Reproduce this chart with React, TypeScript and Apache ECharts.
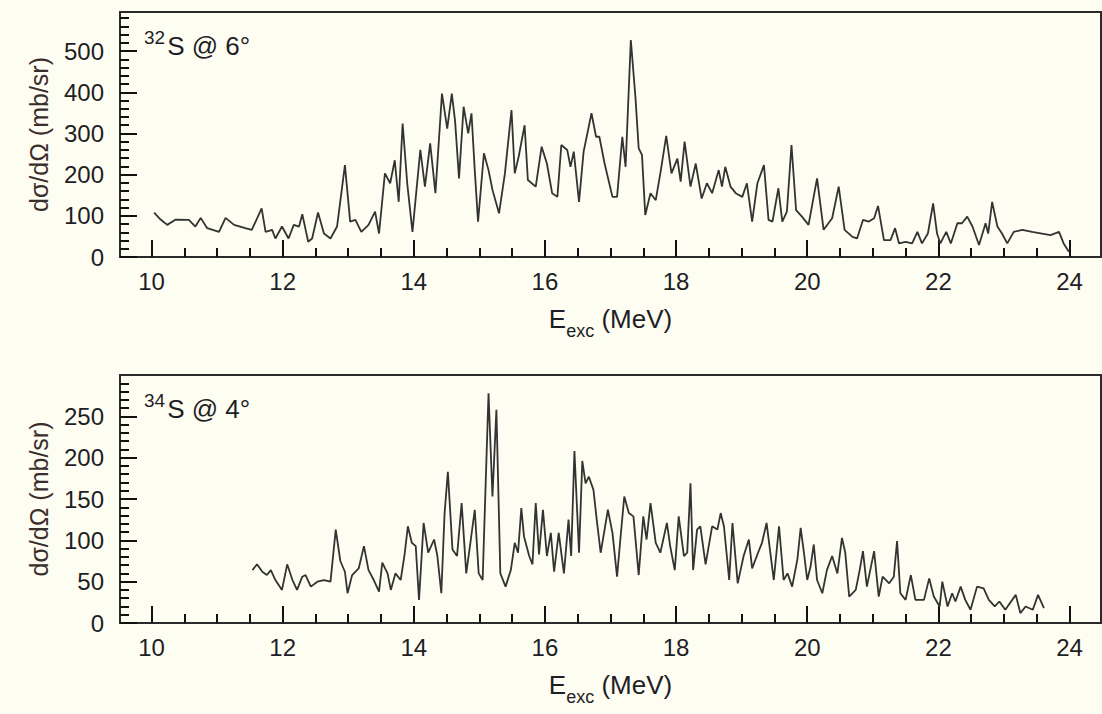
import React, { useEffect, useRef } from "react";
import * as echarts from "echarts";

// 32S @ 6 deg : excitation energy (MeV) and cross section (mb/sr)
const energy32 = [10.04,10.14,10.24,10.37,10.57,10.67,10.75,10.85,11.03,11.13,11.26,11.43,11.53,11.68,11.74,11.84,11.89,11.99,12.09,12.17,12.25,12.30,12.39,12.45,12.54,12.63,12.73,12.83,12.95,13.03,13.11,13.20,13.31,13.41,13.47,13.56,13.64,13.71,13.77,13.83,13.90,13.98,14.10,14.17,14.25,14.33,14.43,14.51,14.58,14.63,14.69,14.76,14.83,14.88,14.93,14.98,15.07,15.14,15.20,15.30,15.39,15.49,15.54,15.60,15.69,15.74,15.86,15.95,16.03,16.11,16.19,16.25,16.34,16.39,16.44,16.52,16.59,16.71,16.78,16.83,16.91,17.03,17.10,17.18,17.23,17.31,17.38,17.43,17.48,17.53,17.61,17.69,17.76,17.85,17.93,18.02,18.07,18.13,18.22,18.30,18.39,18.47,18.55,18.65,18.70,18.75,18.83,18.91,19.01,19.08,19.16,19.24,19.34,19.41,19.47,19.56,19.62,19.69,19.76,19.83,19.92,20.02,20.15,20.25,20.38,20.48,20.57,20.69,20.76,20.85,20.94,21.02,21.08,21.17,21.27,21.34,21.40,21.50,21.60,21.68,21.75,21.84,21.92,21.98,22.03,22.12,22.19,22.29,22.36,22.44,22.52,22.62,22.72,22.76,22.82,22.90,22.97,23.05,23.15,23.28,23.43,23.58,23.71,23.84,23.91,23.99];
const sigma32 = [108,91,78,91,90,74,95,70,61,95,78,70,66,118,61,66,45,74,45,78,74,104,37,45,108,57,45,74,223,86,90,61,78,110,57,203,179,235,134,324,179,61,260,171,276,155,397,312,397,330,191,365,300,349,211,86,252,211,163,106,203,357,203,244,320,187,171,268,227,155,146,272,260,219,256,134,256,349,292,292,227,146,146,292,219,527,389,264,248,102,155,138,203,294,203,239,183,280,171,227,142,179,155,211,171,219,171,155,146,179,86,179,223,90,86,167,86,110,272,114,98,78,191,66,94,171,66,49,45,90,86,94,124,41,41,70,33,37,33,61,33,57,130,57,33,61,33,82,82,98,74,29,82,57,134,74,57,33,61,66,61,57,53,61,33,13];

// 34S @ 4 deg
const energy34 = [11.54,11.61,11.69,11.76,11.82,11.89,11.99,12.07,12.15,12.22,12.30,12.35,12.43,12.53,12.63,12.73,12.81,12.88,12.95,12.99,13.06,13.16,13.24,13.31,13.39,13.47,13.52,13.60,13.65,13.72,13.80,13.86,13.91,13.97,14.03,14.08,14.15,14.22,14.31,14.36,14.42,14.47,14.52,14.59,14.66,14.73,14.80,14.87,14.93,14.99,15.05,15.14,15.20,15.26,15.32,15.40,15.48,15.54,15.59,15.64,15.68,15.76,15.81,15.86,15.91,15.97,16.03,16.09,16.14,16.21,16.29,16.36,16.40,16.45,16.52,16.57,16.62,16.67,16.74,16.79,16.85,16.91,16.96,17.03,17.10,17.15,17.21,17.28,17.35,17.43,17.50,17.55,17.61,17.69,17.76,17.86,17.91,17.98,18.04,18.12,18.17,18.22,18.26,18.32,18.37,18.45,18.55,18.63,18.68,18.73,18.81,18.86,18.94,19.03,19.11,19.16,19.25,19.31,19.38,19.49,19.57,19.64,19.70,19.77,19.85,19.90,19.95,20.00,20.05,20.10,20.15,20.23,20.30,20.38,20.46,20.53,20.58,20.64,20.74,20.80,20.85,20.91,21.02,21.09,21.15,21.25,21.32,21.37,21.42,21.50,21.58,21.65,21.78,21.86,21.93,22.02,22.06,22.14,22.21,22.26,22.34,22.41,22.49,22.59,22.69,22.77,22.86,22.93,23.02,23.18,23.25,23.33,23.44,23.52,23.61];
const sigma34 = [64,71,62,58,64,52,40,71,52,40,56,58,44,50,52,50,113,75,62,36,58,66,93,64,52,38,73,60,40,60,52,83,117,97,93,28,121,85,101,81,36,133,183,89,81,145,60,101,137,60,52,278,153,258,60,44,64,97,85,139,105,81,71,145,83,137,81,109,62,109,60,125,81,208,85,196,169,177,161,125,85,113,137,109,56,101,153,133,129,58,129,101,145,97,85,121,93,64,129,81,85,169,64,113,117,71,117,113,133,117,52,121,48,81,101,66,85,97,121,52,117,52,60,44,77,115,85,52,68,95,52,36,64,81,60,103,85,32,40,64,87,44,87,32,56,48,56,99,36,28,58,28,28,54,32,20,50,20,36,26,44,28,16,44,42,28,20,26,16,34,12,20,16,34,18];

const xMajorTicks = [10, 12, 14, 16, 18, 20, 22, 24];
const xMinorTicks = [10.5, 11, 11.5, 12.5, 13, 13.5, 14.5, 15, 15.5, 16.5, 17, 17.5, 18.5, 19, 19.5, 20.5, 21, 21.5, 22.5, 23, 23.5];
const yMajor32 = [0, 100, 200, 300, 400, 500];
const yMinor32 = [20, 40, 60, 80, 120, 140, 160, 180, 220, 240, 260, 280, 320, 340, 360, 380, 420, 440, 460, 480, 520, 540, 560, 580];
const yMajor34 = [0, 50, 100, 150, 200, 250];
const yMinor34 = [10, 20, 30, 40, 60, 70, 80, 90, 110, 120, 130, 140, 160, 170, 180, 190, 210, 220, 230, 240, 260, 270, 280, 290];

const panelLabels = [
  { mass: "32", rest: "S @ 6°" },
  { mass: "34", rest: "S @ 4°" },
];
const yTitle = "dσ/dΩ (mb/sr)";

const FONT = '"Liberation Sans", Arial, Helvetica, sans-serif';
const INK = "#1e1e26";
const FRAME = "#2a2a2a";
const BG = "#fefdf1";

export default function App() {
  const ref = useRef<HTMLDivElement>(null);

  useEffect(() => {
    document.body.style.margin = "0";
    document.body.style.background = BG;
    if (!ref.current) return;
    const chart = echarts.init(ref.current, undefined, { renderer: "svg" });

    const grids = [
      { left: 120, top: 12, width: 981, height: 245 },
      { left: 120, top: 375, width: 981, height: 248 },
    ];
    const yMax = [595, 300];
    const yMajor = [yMajor32, yMajor34];
    const yMinor = [yMinor32, yMinor34];

    const xAxes: any[] = [];
    const yAxes: any[] = [];
    grids.forEach((_, i) => {
      xAxes.push({
        type: "value",
        gridIndex: i,
        min: 9.52,
        max: 24.48,
        position: "bottom",
        axisLine: { show: true, lineStyle: { color: FRAME, width: 2 } },
        axisTick: { show: true, inside: true, length: 17, customValues: xMajorTicks, lineStyle: { color: "#111", width: 2 } },
        axisLabel: { customValues: xMajorTicks, fontSize: 24, color: INK, fontFamily: FONT, margin: 12 },
        splitLine: { show: false },
        name: "{m|E}{s|exc}{m| (MeV)}",
        nameLocation: "middle",
        nameGap: 49,
        nameTextStyle: {
          rich: {
            m: { fontSize: 26, fontFamily: FONT, color: INK, verticalAlign: "bottom", padding: [0, 0, 8, 0] },
            s: { fontSize: 18, fontFamily: FONT, color: INK, verticalAlign: "bottom" },
          },
        },
      });
      xAxes.push({
        type: "value",
        gridIndex: i,
        min: 9.52,
        max: 24.48,
        position: "bottom",
        axisLine: { show: false },
        axisTick: { show: true, inside: true, length: 9, customValues: xMinorTicks, lineStyle: { color: "#111", width: 2 } },
        axisLabel: { show: false },
        splitLine: { show: false },
      });
      yAxes.push({
        type: "value",
        gridIndex: i,
        min: 0,
        max: yMax[i],
        position: "left",
        axisLine: { show: true, lineStyle: { color: FRAME, width: 2 } },
        axisTick: { show: true, inside: true, length: 17, customValues: yMajor[i], lineStyle: { color: "#111", width: 2 } },
        axisLabel: { customValues: yMajor[i], fontSize: 24, color: INK, fontFamily: FONT, margin: 16 },
        splitLine: { show: false },
        name: yTitle,
        nameLocation: "middle",
        nameGap: 69,
        nameTextStyle: { fontSize: 25, fontFamily: FONT, color: "#3a2e2c" },
      });
      yAxes.push({
        type: "value",
        gridIndex: i,
        min: 0,
        max: yMax[i],
        position: "left",
        axisLine: { show: false },
        axisTick: { show: true, inside: true, length: 9, customValues: yMinor[i], lineStyle: { color: "#111", width: 2 } },
        axisLabel: { show: false },
        splitLine: { show: false },
      });
    });

    const mkSeries = (xs: number[], ys: number[], idx: number) => ({
      type: "line",
      xAxisIndex: idx * 2,
      yAxisIndex: idx * 2,
      data: xs.map((e, k) => [e, ys[k]]),
      showSymbol: false,
      symbol: "none",
      silent: true,
      lineStyle: { color: "#333", width: 1.8 },
    });

    const labelTops = [28, 391];
    const graphic = panelLabels.map((p, i) => ({
      type: "text",
      x: 144,
      y: labelTops[i],
      silent: true,
      style: {
        text: `{sup|${p.mass}}{main|${p.rest}}`,
        rich: {
          sup: { fontSize: 19, fontFamily: FONT, fill: INK, verticalAlign: "top" },
          main: { fontSize: 26, fontFamily: FONT, fill: INK, verticalAlign: "top", padding: [5, 0, 0, 2] },
        },
      },
    }));

    chart.setOption({
      animation: false,
      backgroundColor: BG,
      grid: grids.map((g) => ({ ...g, show: true, borderColor: FRAME, borderWidth: 2, backgroundColor: "transparent", containLabel: false })),
      xAxis: xAxes,
      yAxis: yAxes,
      series: [mkSeries(energy32, sigma32, 0), mkSeries(energy34, sigma34, 1)],
      graphic,
    });

    return () => chart.dispose();
  }, []);

  return <div ref={ref} style={{ position: "absolute", left: 0, top: 0, width: 1102, height: 714 }} />;
}
